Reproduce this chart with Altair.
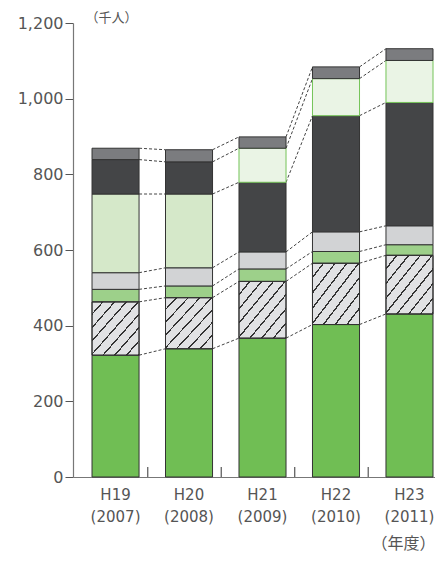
import altair as alt
import pandas as pd

# ---- data (thousand persons) ----
years = ["H19|(2007)", "H20|(2008)", "H21|(2009)", "H22|(2010)", "H23|(2011)"]
cats = ["green", "hatch", "mid", "lgray", "lgreen", "dark", "pale", "gray"]
green = [322, 339, 367, 403, 431]
hatch = [141, 135, 150, 162, 155]
mid = [33, 31, 33, 31, 28]
lgray = [44, 48, 45, 52, 50]
lgreen = [208, 195, 0, 0, 0]
dark = [91, 85, 184, 307, 326]
pale = [0, 0, 90, 98, 111]
gray = [30, 32, 30, 31, 31]
y_ticks = [0, 200, 400, 600, 800, 1000, 1200]

fills = ["#70be54", "#e1e2e4", "#9dd08a", "#d2d3d5", "#d5e8c9", "#444547", "#eaf4e5", "#7b7c7f"]
strokes = ["#333333", "#333333", "#333333", "#333333", "#333333", "#333333", "#74c458", "#333333"]

series = [green, hatch, mid, lgray, lgreen, dark, pale, gray]
rows = []
tops = []
for i, yr in enumerate(years):
    acc = 0
    t = []
    for c, s in zip(cats, series):
        v = s[i]
        if v <= 0:
            continue
        rows.append({"year": yr, "cat": c, "y0": acc, "y1": acc + v})
        acc += v
        t.append(acc)
    tops.append(t)
bars = pd.DataFrame(rows)

links = []
for i in range(len(years) - 1):
    for a, b in zip(tops[i], tops[i + 1]):
        links.append({"year": years[i], "next": years[i + 1], "v0": a, "v1": b})
links = pd.DataFrame(links)

ticks_df = pd.DataFrame({"year": years[:-1]})

FONT = "DejaVu Sans"
TXT = "#555555"

xscale = alt.Scale(domain=years, paddingInner=0.36, paddingOuter=0.143, align=0.905)
xaxis = alt.Axis(
    title="（年度）", labelExpr="split(datum.label, '|')", labelAngle=0, ticks=False,
    domainColor="#777777", domainWidth=1.2, labelFont=FONT, labelFontSize=15,
    labelColor=TXT, labelLineHeight=22, labelPadding=10, labelBaseline="top",
    titleFont="Noto Sans CJK JP", titleFontSize=16, titleFontWeight="normal",
    titleColor=TXT, titleAnchor="end", titleAlign="right", titleBaseline="middle",
    titleX=362, titleY=66,
)
yaxis = alt.Axis(
    values=y_ticks, format=",d", grid=False, tickSize=8, tickColor="#555555",
    domainColor="#777777", domainWidth=1.2, labelFont=FONT, labelFontSize=16,
    labelColor=TXT, labelPadding=2, title="（千人）", titleAngle=0,
    titleFont="Noto Sans CJK JP", titleFontSize=13, titleFontWeight="normal",
    titleColor=TXT, titleAlign="left", titleBaseline="middle", titleX=12, titleY=-6,
)
yscale = alt.Scale(domain=[0, 1200], nice=False)

base_bar = alt.Chart(bars).mark_bar(strokeWidth=1).encode(
    x=alt.X("year:N", scale=xscale, axis=xaxis),
    y=alt.Y("y0:Q", scale=yscale, axis=yaxis),
    y2="y1:Q",
    fill=alt.Fill("cat:N", scale=alt.Scale(domain=cats, range=fills), legend=None),
    stroke=alt.Stroke("cat:N", scale=alt.Scale(domain=cats, range=strokes), legend=None),
)

P = 1 / 8
d = 0.018
stops = []
for k in range(8):
    stops += [
        alt.GradientStop(color="rgba(0,0,0,0)", offset=k * P),
        alt.GradientStop(color="rgba(0,0,0,0)", offset=k * P + P - d),
        alt.GradientStop(color="#333333", offset=k * P + P - d),
        alt.GradientStop(color="#333333", offset=(k + 1) * P),
    ]
hatch_fill = alt.Gradient(gradient="linear", x1=0, y1=0, x2=1, y2=1, stops=stops)

hatch_layer = alt.Chart(bars).transform_filter(alt.datum.cat == "hatch").mark_bar(
    fill=hatch_fill, stroke="#333333", strokeWidth=1
).encode(
    x=alt.X("year:N", scale=xscale, axis=xaxis),
    y=alt.Y("y0:Q", scale=yscale, axis=yaxis),
    y2="y1:Q",
)

link_layer = alt.Chart(links).mark_rule(
    strokeDash=[3, 2], color="#444444", strokeWidth=1
).encode(
    x=alt.X("year:N", scale=xscale, axis=xaxis, bandPosition=1),
    x2=alt.X2("next:N", bandPosition=0),
    y=alt.Y("v0:Q", scale=yscale, axis=yaxis),
    y2="v1:Q",
)

tick_layer = alt.Chart(ticks_df).mark_rule(
    color="#555555", strokeWidth=1.2, xOffset=8.7
).encode(
    x=alt.X("year:N", scale=xscale, axis=xaxis, bandPosition=1),
    y=alt.value(454),
    y2=alt.value(444),
)

chart = alt.layer(link_layer, base_bar, hatch_layer, tick_layer).properties(
    width=362, height=454,
    padding={"left": 65, "top": 15, "right": 0, "bottom": 76},
    autosize=alt.AutoSizeParams(type="none"),
    background="white",
).configure_view(stroke=None)

chart.save("out.html", embed_options={"renderer": "svg", "actions": False})
